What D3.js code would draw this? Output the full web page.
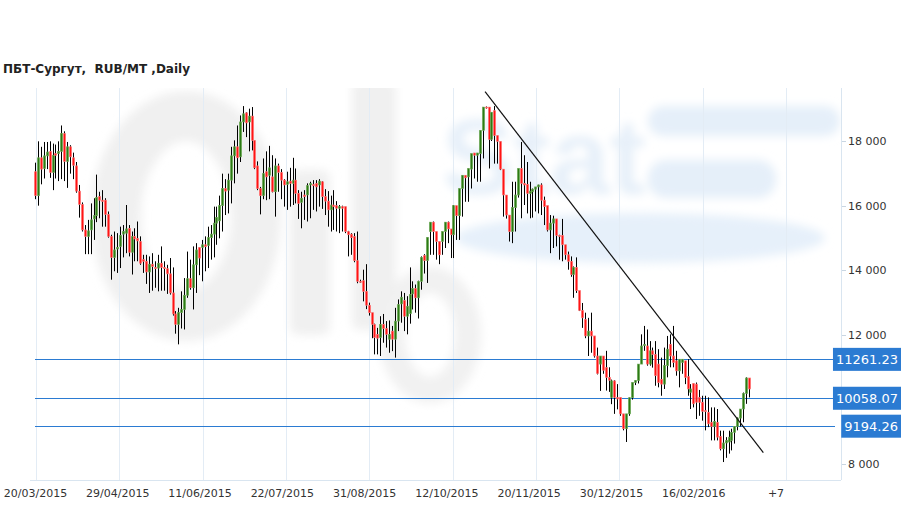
<!DOCTYPE html>
<html><head><meta charset="utf-8">
<script src="https://cdn.jsdelivr.net/npm/d3@7"></script>
<style>body{margin:0;background:#fff}svg{display:block}</style>
</head><body>
<svg id="c" width="909" height="509"></svg>
<script>
// ---- DATA ----
const title = "ПБТ-Сургут,  RUB/MT ,Daily";
const tickLabels = ["20/03/2015","29/04/2015","11/06/2015","22/07/2015","31/08/2015","12/10/2015","20/11/2015","30/12/2015","16/02/2016","+7"];
const yTicks = [8000,12000,14000,16000,18000];
const levels = [11261.23, 10058.07, 9194.26];
const trendIdx = [153.8, 248.9];
const trendVal = [19525, 8360];

const open = [
17050,16310,17480,17150,17540,17680,17030,17610,17610,17680,18230,17370,17820,17480,17230,16450,16040,15250,15050,15250,15590,15690,16280,16170,16170,15730,15050,14400,14660,14740,15120,15150,15300,
14560,15050,14990,14890,14330,14280,13950,14190,14090,14070,14220,14090,14050,13890,13300,12650,12330,12690,12790,13230,13740,13460,14170,14710,14710,14790,14770,15010,15120,15460,15530,16000,
16530,16480,16790,17540,17820,17510,18590,18870,18590,18770,18020,17230,16530,16310,17050,16940,16890,16430,17230,17030,16790,16660,16760,16690,16790,16380,16100,16330,16330,16640,16660,16690,
16640,16740,16280,16140,15870,16020,16000,15920,15970,15970,15200,15120,15050,14300,13660,13680,13350,12920,12690,12330,12020,11920,12330,12200,11870,12120,11870,12430,
12960,13070,12580,12660,13270,13440,13150,13660,14460,14300,
15200,15490,15200,14890,14890,15200,15490,15280,15100,16000,15690,16530,16940,16890,17130,17630,17560,17610,18330,19050,19050,18050,18940,18170,17990,17130,16330,15710,
15200,15940,16330,17150,16690,16660,16380,16430,16510,16580,16640,16170,16000,15250,15460,15590,15080,15080,14790,14480,14280,13870,14090,13370,12760,12480,11970,12120,11970,11350,11100,11350,
10990,10690,10070,10580,10070,10070,9560,9100,9560,10060,10530,10590,11100,11670,11660,11100,11510,11400,11100,10630,10480,11050,11710,11350,11200,10890,11150,11200,10710,
10230,10500,10480,10070,9920,9660,9610,9300,9170,9300,8860,8480,8660,8690,8740,8990,9170,9430,9710,10190,10670
];
const high = [
17330,17990,17820,17970,17970,17990,17920,17890,17990,18480,18300,17970,17870,17640,17350,16640,16100,15400,15560,16070,16230,16960,16430,16480,16230,15820,15100,15200,15150,15350,15400,16020,15400,
15200,15300,15510,15050,14480,14480,14430,14530,14280,14480,14740,14280,14170,14380,14090,12740,12840,13350,13760,14580,14330,14740,14840,14710,14940,15050,15350,15400,15970,15970,16310,16990,
16820,16990,17820,18020,18480,18790,19080,18890,19000,19050,18020,17370,16580,17460,17680,17850,17560,17460,17300,17130,16820,17050,17170,17480,17150,16480,16430,16480,16690,16740,16790,16790,
16820,16760,16510,16450,16310,16480,16140,16020,16000,15970,15220,15150,15150,15200,13710,14020,14190,13000,12690,12350,12220,12580,12650,12430,12450,12280,12840,13100,
13350,13300,13200,14090,13660,13560,13680,14430,14500,15020,
15490,15510,15200,14890,15200,15490,15510,15280,16020,16000,16530,16940,16940,17150,17610,17630,17630,18330,19050,19070,19050,18890,19080,18170,17990,17130,16330,15710,
16740,16740,17150,17970,17560,17350,16740,16530,16560,16650,16690,16280,16000,15710,15690,15590,15100,15590,14790,14580,14430,14120,14400,13370,12990,12690,12530,12690,11970,11610,11350,11350,
11510,11000,10620,10600,10480,10070,9560,9560,10070,10530,10600,11100,12020,12280,12170,11810,11610,11810,11560,11300,11610,11970,12020,12280,11510,11250,11250,11200,11250,
10480,10500,10530,10300,10120,10120,10070,9760,9760,9710,9040,9040,8840,9040,9100,9100,9450,9710,10220,10690,10670
];
const low = [
16200,16000,16660,16840,17130,16860,16480,16840,16760,16820,16760,16550,16990,16820,16400,15630,15200,14500,14500,14500,14940,15490,15610,15350,15350,15010,13710,13970,13920,14070,14400,14530,14430,
13870,14280,14280,14170,13920,13580,13300,13370,13460,13350,13370,13370,13270,13250,12600,12040,11710,12200,12170,13150,13400,12790,13300,13850,13660,13970,14070,14330,14400,14790,14990,15200,
15710,15760,16070,16690,16990,17350,18280,18120,17680,17710,17130,16480,15730,16200,16170,16200,16410,15660,16430,16200,15970,15870,15970,16020,16070,15590,15300,15560,15510,15610,15870,15820,
15970,15900,15710,15350,15200,15250,15200,15150,15200,15150,14430,14480,14250,13600,13610,13040,12800,12600,11900,11400,11400,11350,11760,11610,11450,11500,11300,12120,
12380,12120,12020,12350,12790,12690,12510,13400,13900,13610,
14480,14480,14330,14190,14480,14690,14840,14380,14380,14940,14940,15660,16120,16120,16530,16840,16740,16740,17460,19000,17150,18000,17300,17300,17100,15660,15600,14890,
14840,15200,16250,15610,16020,15760,15610,15630,15820,15760,15710,15400,15200,14530,14690,14740,14330,14280,14330,14020,13800,13150,13300,12740,12220,11900,11350,11450,11300,10780,10270,10800,
10280,10240,9860,9560,9700,9500,9050,8690,9500,10000,10450,10500,11100,11510,11050,11050,10990,10430,10380,10120,10330,10690,11000,11000,10740,10380,10800,10480,10120,
9710,9760,9400,9500,9350,9050,9150,8740,8740,8740,8430,8070,8200,8330,8430,8640,9050,9170,9300,9870,10070
];
const close = [
16310,17480,17130,17540,17660,17030,17560,17560,17680,18230,17370,17820,17510,17250,16450,16040,15250,15050,15220,15560,15690,16250,16170,16130,15730,15050,14400,14630,14710,15080,15200,15280,14560,
15050,14970,14910,14220,14280,13950,14190,14120,14050,14220,14090,14050,13890,13300,12650,12330,12690,12790,13230,13740,13460,14170,14630,14380,14790,14730,15010,15120,15460,15630,16000,16530,
16450,16790,17540,17820,17480,18590,18840,18560,18770,18020,17170,16530,16310,16990,16890,17170,16430,17230,17030,16790,16640,16740,16690,16790,16380,16070,16230,16280,16620,16690,16620,16580,
16760,16280,16140,15870,16020,15970,15920,15970,15920,15200,15100,15010,14300,13660,13640,13350,12920,12690,12330,11920,11900,12330,12200,12020,12020,11870,12430,12940,
13170,12580,12890,13250,13440,13150,13660,14400,14300,15020,
15490,15200,14890,14480,15200,15490,15280,15100,16000,15690,16530,16940,16860,17150,17610,17560,17630,18330,19050,19030,18050,18890,18170,17990,17130,16330,15710,15200,
15940,16330,17150,16690,16640,16380,16450,16510,16580,16640,16170,15970,15250,15460,15590,15080,15050,14790,14480,14280,13870,14090,13370,12760,12530,11970,12120,11970,11350,10810,11350,10910,
10690,10600,10580,10070,10020,9560,9100,9560,10060,10530,10590,11100,11660,11710,11100,11510,11400,10740,10530,10480,11050,11560,11350,11150,10890,11250,11250,10690,10330,
10330,9870,9920,9920,9640,9640,9250,9170,9330,8840,8480,8660,8740,8840,8990,9170,9430,9710,10190,10670,10330
];

// ---- CHART ----
const svg = d3.select('#c');
const plotTop = 88, plotBottom = 480, axisX = 841;
const x = d3.scaleLinear().domain([0, open.length - 1]).range([35, 749]);
const y = d3.scaleLinear().domain([8000, 18000]).range([464.3, 141]);
const xt = d3.scalePoint().domain(tickLabels).range([36, 786]);
const xl = d3.scalePoint().domain(tickLabels).range([35.5, 776]);

const defs = svg.append('defs');
defs.append('filter').attr('id','blur').attr('x','-20%').attr('y','-20%').attr('width','140%').attr('height','140%')
  .append('feGaussianBlur').attr('stdDeviation', 5);
defs.append('clipPath').attr('id','plotclip').append('rect')
  .attr('x',0).attr('y',plotTop).attr('width',axisX).attr('height',plotBottom-plotTop);

// watermark (decorative)
const wm = svg.append('g').attr('filter','url(#blur)').attr('clip-path','url(#plotclip)');
wm.append('ellipse').attr('cx',186).attr('cy',216).attr('rx',70).attr('ry',100)
  .attr('fill','none').attr('stroke','#f0f0f0').attr('stroke-width',50);
wm.append('rect').attr('x',290).attr('y',170).attr('width',40).attr('height',165).attr('rx',8).attr('fill','#f0f0f0');
wm.append('rect').attr('x',352).attr('y',80).attr('width',44).attr('height',250).attr('rx',8).attr('fill','#f0f0f0');
wm.append('ellipse').attr('cx',430).attr('cy',335).attr('rx',38).attr('ry',55).attr('fill','none').attr('stroke','#f1f1f1').attr('stroke-width',26);
wm.append('text').attr('x',442).attr('y',194).attr('font-family','Liberation Sans').attr('font-weight','bold')
  .attr('font-size',108).attr('fill','#e7f0f9').text('Stat');
wm.append('rect').attr('x',648).attr('y',106).attr('width',192).attr('height',30).attr('rx',15).attr('fill','#e5eff9');
wm.append('rect').attr('x',648).attr('y',160).attr('width',128).attr('height',38).attr('rx',18).attr('fill','#e5eff9');
wm.append('ellipse').attr('cx',640).attr('cy',238).attr('rx',185).attr('ry',25).attr('fill','#e6f0fa');

// vertical grid lines
svg.append('g').selectAll('line').data(tickLabels).join('line')
  .attr('x1', d => Math.round(xt(d)) + 0.5).attr('x2', d => Math.round(xt(d)) + 0.5)
  .attr('y1', plotTop).attr('y2', plotBottom)
  .attr('stroke', '#e3ecf5').attr('stroke-width', 1);

// axes lines
svg.append('line').attr('x1',30).attr('x2',axisX).attr('y1',plotBottom+0.5).attr('y2',plotBottom+0.5)
  .attr('stroke','#d9e5f0').attr('stroke-width',1);
svg.append('line').attr('x1',axisX+0.5).attr('x2',axisX+0.5).attr('y1',plotTop).attr('y2',plotBottom)
  .attr('stroke','#d9e5f0').attr('stroke-width',1);

// y axis ticks & labels
const fmt = v => d3.format(',')(v).replace(/,/g,' ');
const yg = svg.append('g');
yg.selectAll('line').data(yTicks).join('line')
  .attr('x1',axisX+1).attr('x2',axisX+5)
  .attr('y1',d=>Math.round(y(d))+0.5).attr('y2',d=>Math.round(y(d))+0.5)
  .attr('stroke','#c9d6e2');
yg.selectAll('text').data(yTicks).join('text')
  .attr('x',axisX+7).attr('y',d=>y(d)+4)
  .attr('font-family','DejaVu Sans').attr('font-size',11).attr('fill','#333')
  .text(fmt);

// x axis labels
svg.append('g').selectAll('text').data(tickLabels).join('text')
  .attr('x', d => xl(d)).attr('y', 497).attr('text-anchor','middle')
  .attr('font-family','DejaVu Sans').attr('font-size',11).attr('fill','#333')
  .text(d => d);

// title
svg.append('text').attr('x',3).attr('y',73).attr('font-family','DejaVu Sans').attr('font-weight','bold')
  .attr('font-size',12).attr('fill','#222').attr('xml:space','preserve').style('white-space','pre').text(title);

// level lines
const lv = svg.append('g');
lv.selectAll('line').data(levels).join('line')
  .attr('x1',35).attr('x2',835)
  .attr('y1',d=>Math.round(y(d))+0.5).attr('y2',d=>Math.round(y(d))+0.5)
  .attr('stroke','#2b7bd2').attr('stroke-width',1);

// candles
const idx = d3.range(open.length);
const cg = svg.append('g');
cg.selectAll('line').data(idx).join('line')
  .attr('x1', i => Math.round(x(i)) + 0.5).attr('x2', i => Math.round(x(i)) + 0.5)
  .attr('y1', i => y(Math.max(high[i], open[i], close[i])))
  .attr('y2', i => y(Math.min(low[i], open[i], close[i])))
  .attr('stroke', '#000').attr('stroke-width', 1);
cg.selectAll('rect').data(idx).join('rect')
  .attr('x', i => Math.round(x(i)) - 0.7)
  .attr('width', 2.4)
  .attr('y', i => y(Math.max(open[i], close[i])))
  .attr('height', i => Math.max(1, Math.abs(y(open[i]) - y(close[i]))))
  .attr('fill', i => close[i] >= open[i] ? '#2c7a14' : '#ff1414')
  .attr('stroke', i => close[i] >= open[i] ? '#7cb466' : '#ff8c8c')
  .attr('stroke-width', 0.6);

// trend line
svg.append('line')
  .attr('x1', x(trendIdx[0])).attr('y1', y(trendVal[0]))
  .attr('x2', x(trendIdx[1])).attr('y2', y(trendVal[1]))
  .attr('stroke','#111').attr('stroke-width',1.2);

// level labels
const lab = svg.append('g');
levels.forEach(v => {
  const t = lab.append('text').attr('font-family','DejaVu Sans').attr('font-size',13).attr('fill','#fff')
    .attr('text-anchor','end').attr('x',898).attr('y',y(v)+5).text(v.toFixed(2));
  const w = t.node().getComputedTextLength();
  lab.insert('rect', () => t.node()).attr('x', 901 - w - 6).attr('y', y(v) - 11)
    .attr('width', w + 6).attr('height', 23).attr('fill','#2b7bd2');
});
</script>
</body></html>
